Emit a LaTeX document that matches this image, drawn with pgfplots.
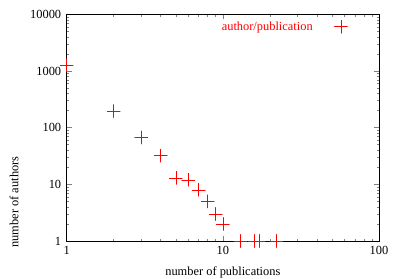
\documentclass[border=0pt]{standalone}
\usepackage{fontspec}
\setmainfont{Liberation Serif}
\usepackage{pgfplots}
\pgfplotsset{compat=1.18}
\definecolor{gpred}{RGB}{255,0,0}
\begin{document}
\begin{tikzpicture}
\useasboundingbox (-66.7bp,-38bp) rectangle (333.3bp,241bp);
\begin{axis}[
 at={(0,0)}, anchor=south west,
 scale only axis, width=312.3bp, height=226.7bp,
 xmode=log, ymode=log, xmin=1, xmax=100, ymin=1, ymax=10000,
 xtick={1,10,100}, xticklabels={1,10,100},
 ytick={1,10,100,1000,10000}, yticklabels={1,10,100,1000,10000},
 tick align=inside, major tick length=5bp, minor tick length=2.5bp,
 tick style={line width=0.5pt},
 axis line style={line width=0.8pt},
 tick label style={font=\fontsize{12.4bp}{15bp}\selectfont},
 xticklabel style={yshift=-2bp},
 yticklabel style={xshift=-2bp},
 xlabel={number of publications}, ylabel={number of authors},
 label style={font=\fontsize{12.4bp}{15bp}\selectfont},
 xlabel style={at={(axis description cs:0.5,-0.152)}, anchor=base},
 ylabel style={at={(axis description cs:-0.1687,0.172)}, anchor=center},
 legend plot pos=right,
 legend cell align=right,
 legend image code/.code={\path (0bp,0bp) (34bp,0bp); \draw[#1] plot coordinates {(26bp,0bp)};},
 legend style={draw=none, fill=none, text=gpred, font=\fontsize{12.4bp}{15bp}\selectfont, at={(axis description cs:0.9145,0.945)}, anchor=east},
]
\addplot[only marks, mark=+, draw=gpred, mark options={draw=gpred, line width=0.6bp, line cap=round}, mark size=6.5bp] table {
x y
1 1260
2 196
3 67
4 32
5 13
6 12
7 8
8 5
9 3
10 2
13 1
16 1
17 1
22 1
};
\addlegendentry{author/publication}
\end{axis}
\end{tikzpicture}
\end{document}
